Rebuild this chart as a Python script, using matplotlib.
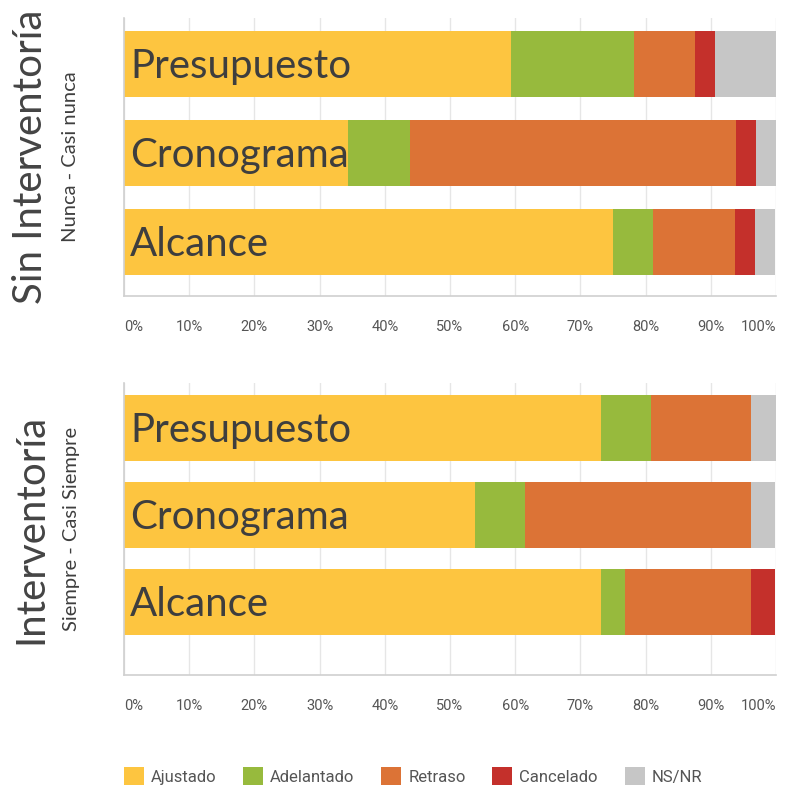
import matplotlib
matplotlib.use("Agg")
import matplotlib.pyplot as plt
from matplotlib.patches import Patch
import numpy as np

categories = ["Presupuesto", "Cronograma", "Alcance"]
series = ["Ajustado", "Adelantado", "Retraso", "Cancelado", "NS/NR"]
colors = ["#FDC540", "#97BA3D", "#DC7336", "#C4302B", "#C6C6C6"]

# Sin Interventoría (Nunca - Casi nunca), percentages
sin_ajustado = [59.4, 34.4, 75.0]
sin_adelantado = [18.8, 9.4, 6.2]
sin_retraso = [9.4, 50.0, 12.5]
sin_cancelado = [3.1, 3.1, 3.1]
sin_nsnr = [9.4, 3.1, 3.1]

# Interventoría (Siempre - Casi Siempre), percentages
con_ajustado = [73.1, 53.8, 73.1]
con_adelantado = [7.7, 7.7, 3.8]
con_retraso = [15.4, 34.6, 19.2]
con_cancelado = [0.0, 0.0, 3.8]
con_nsnr = [3.8, 3.8, 0.0]

xticks = [0, 10, 20, 30, 40, 50, 60, 70, 80, 90, 100]
xtick_labels = ["0%", "10%", "20%", "30%", "40%", "50%", "60%", "70%", "80%", "90%", "100%"]

panels = [
    ("Sin Interventoría", "Nunca - Casi nunca",
     [sin_ajustado, sin_adelantado, sin_retraso, sin_cancelado, sin_nsnr]),
    ("Interventoría", "Siempre - Casi Siempre",
     [con_ajustado, con_adelantado, con_retraso, con_cancelado, con_nsnr]),
]

W, H = 791, 789
fig = plt.figure(figsize=(W / 100, H / 100), dpi=100)

def fr(x0, y0, x1, y1):
    return [x0 / W, 1 - y1 / H, (x1 - x0) / W, (y1 - y0) / H]

layouts = [
    dict(rect=fr(124, 18, 776, 296), ylim=(2.607, -0.517), h=0.74),
    dict(rect=fr(124, 383, 776, 675), ylim=(2.839, -0.517), h=0.76),
]

for (title, subtitle, vals), lay in zip(panels, layouts):
    ax = fig.add_axes(lay["rect"])
    y = np.arange(len(categories))
    left = np.zeros(len(categories))
    for s, c, v in zip(series, colors, vals):
        v = np.array(v, dtype=float)
        ax.barh(y, v, left=left, height=lay["h"], color=c, edgecolor="none", zorder=2)
        left += v
    ax.set_xlim(0, 100)
    ax.set_ylim(*lay["ylim"])
    ax.set_yticks([])
    ax.set_xticks(xticks)
    ax.set_xticklabels(xtick_labels, fontfamily="Roboto", fontsize=10.5, color="#555555")
    tl = ax.get_xticklabels()
    tl[0].set_ha("left")
    tl[-1].set_ha("right")
    ax.tick_params(axis="x", length=0, pad=17)
    ax.grid(axis="x", color="#E6E6E6", linewidth=1, zorder=0)
    for sp in ["top", "right"]:
        ax.spines[sp].set_visible(False)
    for sp in ["left", "bottom"]:
        ax.spines[sp].set_color("#D0D0D0")
        ax.spines[sp].set_linewidth(1.2)
    for i, cat in enumerate(categories):
        ax.annotate(cat, xy=(0, i), xytext=(6, -14), textcoords="offset pixels",
                    va="baseline", ha="left", fontsize=29, fontfamily="Lato",
                    color="#3E3E3E", zorder=5)
    x0, y0, w, h = lay["rect"]
    fig.text(31 / W, y0 + h / 2, title, rotation=90, ha="center", va="center",
             fontsize=29, fontfamily="Lato", color="#444444")
    fig.text(71 / W, y0 + h / 2, subtitle, rotation=90, ha="center", va="center",
             fontsize=14.5, fontfamily="Lato", color="#3E3E3E")

handles = [Patch(facecolor=c, edgecolor="none") for c in colors]
fig.legend(handles, series, loc="center left", bbox_to_anchor=(109 / W, 1 - 776 / H),
           ncol=5, frameon=False, handlelength=1.2, handleheight=1.2,
           handletextpad=0.42, columnspacing=1.6,
           prop=dict(family="Roboto", size=12), labelcolor="#555555")

fig.savefig("out.png", dpi=100)
